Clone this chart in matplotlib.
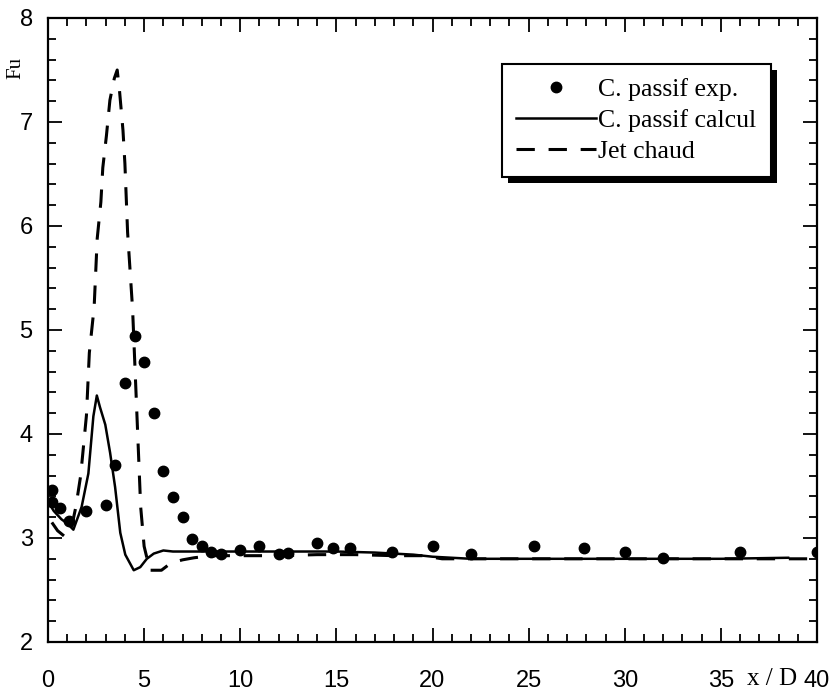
import matplotlib
matplotlib.use("Agg")
import matplotlib.pyplot as plt
from matplotlib.ticker import MultipleLocator
from matplotlib.patches import Rectangle

# ---- data ----
exp_x = [0.2, 0.2, 0.6, 1.1, 2.0, 3.0, 3.5, 4.0, 4.5, 5.0, 5.5, 6.0, 6.5, 7.0, 7.5,
         8.0, 8.5, 9.0, 10.0, 11.0, 12.0, 12.5, 14.0, 14.8, 15.7, 17.9, 20.0, 22.0,
         25.3, 27.9, 30.0, 32.0, 36.0, 40.0]
exp_y = [3.46, 3.35, 3.29, 3.16, 3.26, 3.32, 3.70, 4.49, 4.94, 4.69, 4.20, 3.64, 3.39,
         3.20, 2.99, 2.92, 2.87, 2.85, 2.88, 2.92, 2.85, 2.86, 2.95, 2.90, 2.90, 2.87,
         2.92, 2.85, 2.92, 2.90, 2.87, 2.81, 2.87, 2.87]

calc_x = [0.0, 0.3, 0.7, 1.0, 1.32, 1.75, 2.1, 2.36, 2.54, 2.7, 2.98, 3.23, 3.49, 3.76,
          4.02, 4.46, 4.8, 5.14, 5.5, 6.0, 6.5, 8.0, 10.0, 12.0, 15.0, 17.0, 19.0, 20.0,
          21.0, 22.0, 25.0, 30.0, 35.0, 38.5]
calc_y = [3.35, 3.26, 3.18, 3.14, 3.08, 3.30, 3.62, 4.17, 4.37, 4.26, 4.09, 3.82, 3.49,
          3.05, 2.84, 2.69, 2.72, 2.80, 2.85, 2.88, 2.87, 2.87, 2.87, 2.87, 2.87, 2.86,
          2.84, 2.82, 2.81, 2.80, 2.80, 2.80, 2.80, 2.81]

jet_x = [0.2, 0.5, 0.9, 1.2, 1.45, 1.7, 2.0, 2.15, 2.4, 2.56, 2.75, 2.85, 3.04, 3.22,
         3.45, 3.6, 3.72, 3.9, 4.0, 4.14, 4.4, 4.6, 4.82, 5.0, 5.3, 5.9, 6.4, 7.0, 7.6,
         8.5, 10.0, 12.0, 14.0, 16.0, 18.0, 19.5, 20.5, 22.0, 25.0, 30.0, 35.0, 40.0]
jet_y = [3.15, 3.07, 3.01, 3.08, 3.30, 3.60, 4.18, 4.78, 5.22, 5.88, 6.23, 6.56, 6.87,
         7.21, 7.42, 7.50, 7.30, 6.92, 6.60, 5.94, 5.20, 4.30, 3.30, 2.92, 2.69, 2.69,
         2.76, 2.79, 2.81, 2.83, 2.83, 2.83, 2.84, 2.84, 2.83, 2.83, 2.80, 2.80, 2.80,
         2.80, 2.80, 2.80]

labels = ["C. passif exp.", "C. passif calcul", "Jet chaud"]

# ---- figure ----
W, H = 835, 692
fig = plt.figure(figsize=(W / 100, H / 100), dpi=100)
ax = fig.add_axes([48 / W, 1 - 642 / H, (817 - 48) / W, (642 - 18) / H])

serif = "Liberation Serif"
sans = "Liberation Sans"

p1, = ax.plot(exp_x, exp_y, linestyle="none", marker="o", markersize=7.5,
              color="black", label=labels[0], zorder=3)
p2, = ax.plot(calc_x, calc_y, color="black", linewidth=1.8, label=labels[1], zorder=2)
p3, = ax.plot(jet_x, jet_y, color="black", linewidth=2.2, dashes=(6, 4.5),
              label=labels[2], zorder=2)

ax.set_xlim(0, 40)
ax.set_ylim(2, 8)
ax.xaxis.set_major_locator(MultipleLocator(5))
ax.xaxis.set_minor_locator(MultipleLocator(1))
ax.yaxis.set_major_locator(MultipleLocator(1))
ax.yaxis.set_minor_locator(MultipleLocator(0.2))
ax.tick_params(which="both", direction="in", top=True, right=True, width=1.3,
               colors="black")
ax.tick_params(which="major", length=10)
ax.tick_params(which="minor", length=6)
ax.tick_params(axis="x", which="major", pad=20, labelsize=17)
ax.tick_params(axis="y", which="major", pad=11, labelsize=17)
for lab in ax.get_xticklabels() + ax.get_yticklabels():
    lab.set_fontfamily(sans)
for s in ax.spines.values():
    s.set_linewidth(1.6)

fig.text(16 / W, 1 - 68 / H, "Fu", rotation=90, ha="center", va="center",
         fontsize=15, family=serif)
fig.text(772 / W, 1 - 679 / H, "x / D", ha="center", va="center",
         fontsize=18, family=serif)

leg = ax.legend(handles=[p1, p2, p3], loc="upper left",
                bbox_to_anchor=(502 / W, 1 - 64 / H),
                bbox_transform=fig.transFigure, borderaxespad=0,
                frameon=True, fancybox=False, shadow=False,
                prop={"family": serif, "size": 18.5},
                handlelength=3.1, handletextpad=0.1, labelspacing=0.3,
                borderpad=0.55, numpoints=1)
leg.get_frame().set_edgecolor("black")
leg.get_frame().set_linewidth(1.5)
leg.get_frame().set_alpha(1)
leg.set_zorder(10)

fig.canvas.draw()
bb = leg.get_window_extent().transformed(fig.transFigure.inverted())
shadow = Rectangle((bb.x0 + 6 / W, bb.y0 - 6 / H), bb.width, bb.height,
                   transform=fig.transFigure, facecolor="black",
                   edgecolor="none", zorder=9)
ax.add_patch(shadow)
shadow.set_clip_on(False)

fig.savefig("out.png", dpi=100)
